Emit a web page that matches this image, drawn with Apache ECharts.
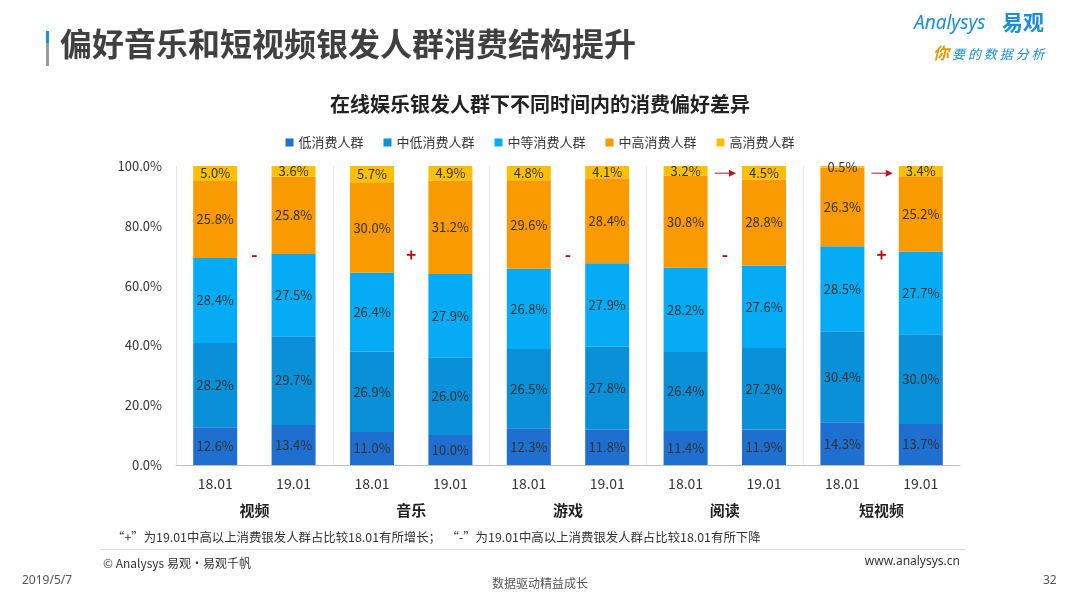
<!DOCTYPE html>
<html>
<head>
<meta charset="utf-8">
<title>在线娱乐银发人群下不同时间内的消费偏好差异</title>
<script src="https://cdn.jsdelivr.net/npm/echarts@6/dist/echarts.min.js"></script>
<style>
  * { margin: 0; padding: 0; }
  body { background: #fff; }
  #main { width: 1080px; height: 607px; }
</style>
</head>
<body>
<div id="main"></div>
<script>
  // 数据
  let periods = ['18.01', '19.01', '18.01', '19.01', '18.01', '19.01', '18.01', '19.01', '18.01', '19.01'];
  let groups = ['视频', '音乐', '游戏', '阅读', '短视频'];
  let seriesNames = ['低消费人群', '中低消费人群', '中等消费人群', '中高消费人群', '高消费人群'];
  let lowData = [12.6, 13.4, 11.0, 10.0, 12.3, 11.8, 11.4, 11.9, 14.3, 13.7];
  let midLowData = [28.2, 29.7, 26.9, 26.0, 26.5, 27.8, 26.4, 27.2, 30.4, 30.0];
  let midData = [28.4, 27.5, 26.4, 27.9, 26.8, 27.9, 28.2, 27.6, 28.5, 27.7];
  let midHighData = [25.8, 25.8, 30.0, 31.2, 29.6, 28.4, 30.8, 28.8, 26.3, 25.2];
  let highData = [5.0, 3.6, 5.7, 4.9, 4.8, 4.1, 3.2, 4.5, 0.5, 3.4];
  let signs = ['-', '+', '-', '-', '+'];   // 每组变化标记
  let arrowGroups = [3, 4];                // 带箭头的组
  let yTicks = [0, 20, 40, 60, 80, 100];

  let myColor = ['#1e6fcf', '#0a8fd9', '#05acf5', '#f99a00', '#fbbf05'];
  let fontCN = '"Noto Sans CJK SC", "Noto Sans", sans-serif';

  let myChart = echarts.init(document.getElementById('main'));

  let allData = [lowData, midLowData, midData, midHighData, highData];
  let changeData = [];
  seriesNames.forEach((item, index) => {
    changeData.push({
      name: item,
      type: 'bar',
      stack: 'total',
      barWidth: 44,
      itemStyle: { color: myColor[index] },
      label: {
        show: true,
        position: 'inside',
        color: '#333',
        fontSize: 13,
        fontFamily: fontCN,
        formatter: p => p.value.toFixed(1) + '%'
      },
      data: allData[index]
    });
  });

  let option = {
    backgroundColor: '#fff',
    textStyle: { fontFamily: fontCN },
    animation: false,
    color: myColor,
    title: {
      text: '在线娱乐银发人群下不同时间内的消费偏好差异',
      left: 'center',
      top: 89,
      textStyle: { fontSize: 20, fontWeight: 'bold', color: '#222', fontFamily: fontCN }
    },
    legend: {
      top: 131,
      left: 'center',
      icon: 'rect',
      itemWidth: 8,
      itemHeight: 8,
      itemGap: 20,
      textStyle: { color: '#333', fontSize: 13, fontFamily: fontCN },
      data: seriesNames
    },
    grid: { left: 176, right: 120, top: 166, bottom: 142 },
    xAxis: [{
      type: 'category',
      data: periods,
      axisLine: { lineStyle: { color: '#bfbfbf' } },
      axisTick: { show: false },
      axisLabel: { color: '#333', fontSize: 14, margin: 12 }
    }, {
      type: 'category',
      data: groups,
      position: 'bottom',
      offset: 26,
      axisLine: { show: false },
      axisTick: { show: false },
      axisLabel: { color: '#222', fontSize: 15, fontWeight: 'bold', margin: 12 },
      splitLine: { show: true, showMinLine: true, showMaxLine: false, lineStyle: { color: '#e8e8e8' } }
    }],
    yAxis: {
      type: 'value',
      min: yTicks[0],
      max: yTicks[yTicks.length - 1],
      interval: 20,
      axisLine: { show: false },
      axisTick: { show: false },
      splitLine: { show: false },
      axisLabel: { color: '#333', fontSize: 13, margin: 14, formatter: v => v.toFixed(1) + '%' }
    },
    graphic: [
      { type: 'rect', shape: { x: 46, y: 31, width: 3, height: 12 }, style: { fill: '#1e90d8' } },
      { type: 'rect', shape: { x: 46, y: 43, width: 3, height: 23 }, style: { fill: '#9a9a9a' } },
      { type: 'text', left: 60, top: 28,
        style: { text: '偏好音乐和短视频银发人群消费结构提升', font: 'bold 32px ' + fontCN, fill: '#404040' } },
      { type: 'text', left: 914, top: 14,
        style: { text: 'Analysys', font: 'italic 19px "Noto Sans", sans-serif', fill: '#1a8fd8' } },
      { type: 'text', left: 1002, top: 12,
        style: { text: '易观', font: 'bold 21px ' + fontCN, fill: '#1a8fd8' } },
      { type: 'text', left: 933, top: 45,
        style: { text: '你', font: 'italic bold 16px ' + fontCN, fill: '#f29400' } },
      { type: 'text', left: 952, top: 48,
        style: { text: '要 的 数 据 分 析', font: 'italic 13px ' + fontCN, fill: '#1a8fd8' } },
      { type: 'text', left: 112, top: 531,
        style: { text: '“+”为19.01中高以上消费银发人群占比较18.01有所增长；  “-”为19.01中高以上消费银发人群占比较18.01有所下降', font: '12.4px ' + fontCN, fill: '#333' } },
      { type: 'rect', shape: { x: 100, y: 549, width: 866, height: 1 }, style: { fill: '#dcdcdc' } },
      { type: 'text', left: 103, top: 557,
        style: { text: '© Analysys 易观·易观千帆', font: '12px ' + fontCN, fill: '#333' } },
      { type: 'text', right: 120, top: 556,
        style: { text: 'www.analysys.cn', font: '12px "Noto Sans", sans-serif', fill: '#333', align: 'right' } },
      { type: 'text', left: 22, top: 575,
        style: { text: '2019/5/7', font: '12px "Noto Sans", sans-serif', fill: '#555' } },
      { type: 'text', left: 'center', top: 577,
        style: { text: '数据驱动精益成长', font: '12px ' + fontCN, fill: '#555' } },
      { type: 'text', left: 1043, top: 575,
        style: { text: '32', font: '12px "Noto Sans", sans-serif', fill: '#555' } }
    ],
    series: changeData
  };
  myChart.setOption(option);

  // 组内标记与箭头，位置由坐标轴换算
  let extra = [];
  signs.forEach((s, g) => {
    let a = myChart.convertToPixel({ xAxisIndex: 0, yAxisIndex: 0 }, [g * 2, 70.5]);
    let b = myChart.convertToPixel({ xAxisIndex: 0, yAxisIndex: 0 }, [g * 2 + 1, 70.5]);
    extra.push({
      type: 'text', x: (a[0] + b[0]) / 2, y: a[1],
      style: { text: s, font: 'bold 17px ' + fontCN, fill: '#c00000', align: 'center', verticalAlign: 'middle' }
    });
  });
  arrowGroups.forEach(g => {
    let a = myChart.convertToPixel({ xAxisIndex: 0, yAxisIndex: 0 }, [g * 2, 97.6]);
    let b = myChart.convertToPixel({ xAxisIndex: 0, yAxisIndex: 0 }, [g * 2 + 1, 97.6]);
    let x1 = a[0] + 29, x2 = b[0] - 28, y = a[1];
    extra.push({ type: 'line', shape: { x1: x1, y1: y, x2: x2 - 5, y2: y }, style: { stroke: '#c0102a', lineWidth: 1 } });
    extra.push({ type: 'polygon', shape: { points: [[x2, y], [x2 - 7, y - 3.5], [x2 - 7, y + 3.5]] }, style: { fill: '#c0102a' } });
  });
  myChart.setOption({ graphic: option.graphic.concat(extra) });
</script>
</body>
</html>
